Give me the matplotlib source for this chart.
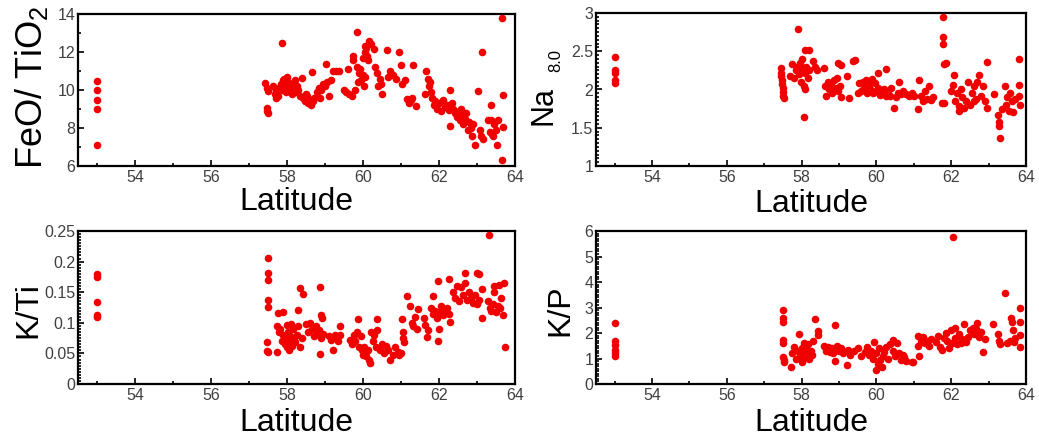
import matplotlib
matplotlib.use("Agg")
import matplotlib.pyplot as plt
from matplotlib.ticker import MultipleLocator, FuncFormatter

plt.rcParams['font.family'] = ['Liberation Sans', 'DejaVu Sans']
plt.rcParams['mathtext.fontset'] = 'custom'
plt.rcParams['mathtext.rm'] = 'Liberation Sans'
plt.rcParams['mathtext.it'] = 'Liberation Sans:italic'

# FeO/TiO2 vs latitude
fe_lat = [53.00, 53.00, 53.00, 53.00, 53.00, 57.42, 57.47, 57.50, 57.47, 57.50,
          57.48, 57.86, 57.63, 57.68, 57.72, 57.75, 57.80, 57.84, 57.88, 57.92,
          57.95, 57.98, 58.02, 58.05, 58.08, 58.12, 58.15, 58.18, 58.22, 58.26,
          58.30, 58.34, 57.90, 58.00, 58.10, 58.20, 57.70, 58.04, 58.14, 58.39,
          58.43, 58.48, 58.52, 58.56, 58.60, 58.64, 58.68, 58.67, 58.72, 58.50,
          58.80, 58.85, 58.90, 58.95, 59.00, 59.05, 59.10, 59.15, 59.03, 58.88,
          59.20, 59.28, 59.36, 59.50, 59.55, 59.62, 59.70, 59.78, 59.60, 59.74,
          59.74, 59.83, 59.85, 59.90, 59.93, 59.96, 60.00, 60.03, 60.05, 59.88,
          60.00, 60.04, 60.08, 60.12, 60.17, 60.20, 60.10, 60.06, 60.30, 60.32,
          60.36, 60.40, 60.44, 60.48, 60.50, 60.62, 60.65, 60.72, 60.80, 60.86,
          60.95, 61.00, 61.02, 61.15, 61.20, 61.25, 61.30, 61.40, 61.32, 61.10,
          61.63, 61.66, 61.70, 61.73, 61.76, 61.80, 61.82, 61.86, 61.90, 61.95,
          62.00, 62.05, 62.10, 62.15, 62.20, 62.25, 62.29, 62.29, 62.33, 62.38,
          62.43, 62.48, 62.52, 62.56, 62.60, 62.64, 62.68, 62.72, 62.76, 62.80,
          62.84, 62.88, 62.95, 63.08, 63.11, 63.15, 63.02, 63.14, 63.30, 63.34,
          63.38, 63.42, 63.46, 63.50, 63.55, 63.37, 63.52, 63.65, 63.67, 63.68,
          63.68, 62.58, 62.90, 63.40]
fe_ti = [10.45, 10.00, 9.47, 8.98, 7.10, 10.37, 10.10, 9.93, 9.05, 8.80,
         8.92, 12.47, 10.20, 9.80, 10.00, 9.70, 10.10, 10.30, 10.00, 10.60,
         10.20, 9.90, 10.40, 10.00, 10.20, 9.80, 10.30, 10.10, 9.90, 10.20,
         10.00, 9.70, 10.50, 10.70, 9.90, 10.50, 9.60, 10.30, 10.00, 10.63,
         9.60, 9.40, 9.70, 9.30, 9.50, 9.20, 9.40, 10.95, 9.60, 9.80,
         9.90, 10.10, 10.00, 10.30, 10.20, 10.40, 9.70, 10.50, 11.37, 9.60,
         11.00, 11.00, 11.00, 10.00, 9.90, 9.80, 9.70, 10.00, 11.10, 11.80,
         11.60, 13.05, 11.20, 10.90, 11.10, 10.50, 10.80, 10.20, 10.70, 10.40,
         11.70, 12.00, 12.20, 11.60, 12.60, 12.40, 11.80, 12.30, 12.17, 11.20,
         10.90, 10.20, 10.60, 10.30, 9.80, 12.10, 10.70, 11.00, 10.80, 10.60,
         12.00, 11.33, 10.30, 9.55, 9.30, 9.45, 9.58, 9.17, 11.30, 10.50,
         9.80, 11.00, 10.60, 10.20, 10.40, 9.90, 9.58, 9.20, 9.40, 9.00,
         9.30, 8.90, 9.50, 9.10, 9.20, 8.95, 10.00, 8.12, 9.30, 9.00,
         8.80, 8.60, 8.90, 8.40, 8.70, 8.20, 8.50, 8.80, 7.90, 8.30,
         8.00, 7.60, 7.10, 7.90, 7.60, 7.40, 9.96, 11.98, 8.40, 7.80,
         8.40, 7.60, 8.20, 7.90, 8.40, 9.20, 7.10, 6.33, 13.80, 9.72,
         8.05, 9.00, 8.20, 7.70]

# Na8.0 vs latitude
na_lat = [53.00, 53.00, 53.00, 53.00, 53.00, 57.44, 57.45, 57.46, 57.47, 57.48,
          57.49, 57.50, 57.51, 57.52, 57.89, 57.70, 57.75, 57.80, 57.84, 57.88,
          57.92, 57.95, 57.98, 58.02, 58.05, 58.08, 58.12, 58.16, 58.20, 58.10,
          58.20, 58.06, 58.10, 58.30, 58.35, 58.40, 58.60, 58.62, 58.66, 58.70,
          58.74, 58.78, 58.82, 58.86, 58.90, 58.94, 58.98, 59.02, 59.06, 58.97,
          59.05, 59.20, 59.27, 59.37, 59.42, 59.53, 59.58, 59.63, 59.68, 59.72,
          59.76, 59.80, 59.84, 59.88, 59.92, 59.96, 60.00, 60.05, 60.10, 60.15,
          60.20, 60.25, 60.03, 60.25, 60.30, 60.35, 60.40, 60.47, 60.52, 60.58,
          60.60, 60.66, 60.72, 60.80, 60.88, 60.95, 61.00, 61.10, 61.13, 61.20,
          61.25, 61.30, 61.35, 61.40, 61.45, 61.50, 61.77, 61.77, 61.77, 61.82,
          61.86, 61.75, 61.82, 62.05, 62.08, 62.10, 62.15, 62.20, 62.25, 62.30,
          62.35, 62.40, 62.45, 62.50, 62.55, 62.60, 62.65, 62.70, 62.75, 62.80,
          62.85, 62.90, 62.96, 62.95, 63.15, 63.25, 63.27, 63.28, 63.30, 63.43,
          63.47, 63.50, 63.54, 63.58, 63.62, 63.66, 63.70, 63.80, 63.82, 63.82,
          63.83, 62.00, 62.22, 62.62, 63.35, 58.00, 57.95, 59.50]
na80 = [2.43, 2.26, 2.22, 2.13, 2.08, 2.28, 2.22, 2.17, 2.12, 2.07,
        2.02, 1.97, 1.92, 1.89, 2.79, 2.18, 2.33, 2.15, 2.25, 2.30,
        2.20, 2.35, 2.10, 2.28, 2.05, 2.22, 2.30, 2.15, 2.25, 2.52,
        2.51, 1.64, 2.00, 2.37, 2.30, 2.25, 2.28, 2.05, 1.92, 2.10,
        2.00, 2.08, 1.95, 2.12, 2.02, 2.15, 1.98, 2.05, 1.90, 2.35,
        2.32, 2.18, 1.89, 2.37, 2.39, 2.08, 1.98, 2.10, 2.02, 2.12,
        1.96, 2.06, 2.00, 2.14, 1.95, 2.08, 1.98, 2.02, 1.93, 1.96,
        2.00, 1.92, 2.22, 2.27, 1.95, 1.92, 2.02, 1.76, 1.90, 1.96,
        2.10, 1.94, 1.98, 1.94, 1.92, 1.95, 1.92, 1.74, 2.13, 1.92,
        1.85, 1.98, 1.88, 2.05, 1.86, 1.90, 2.95, 2.69, 2.59, 2.33,
        2.34, 1.82, 1.82, 2.06, 2.19, 1.85, 1.95, 1.78, 2.00, 1.90,
        1.76, 1.85, 2.10, 1.80, 1.95, 2.05, 1.88, 2.10, 2.19, 1.92,
        2.05, 1.85, 2.36, 1.76, 1.94, 1.67, 1.58, 1.52, 1.36, 2.05,
        1.80, 1.90, 1.72, 1.95, 1.85, 1.70, 1.88, 2.40, 2.06, 1.92,
        1.80, 1.98, 1.72, 1.85, 1.75, 2.40, 2.30, 1.95]

# K/Ti vs latitude
kti_lat = [53.00, 53.00, 53.00, 53.00, 53.00, 57.51, 57.51, 57.51, 57.51, 57.51,
           57.47, 57.47, 57.51, 57.73, 57.77, 57.90, 57.73, 57.78, 57.82, 57.86,
           57.90, 57.94, 57.97, 58.00, 58.03, 58.06, 58.09, 58.12, 58.15, 58.18,
           58.22, 58.26, 58.30, 58.35, 58.40, 58.00, 58.05, 58.10, 58.14, 58.34,
           58.41, 58.30, 58.50, 58.55, 58.60, 58.65, 58.70, 58.75, 58.80, 58.85,
           58.90, 58.95, 58.87, 58.90, 58.92, 58.87, 59.10, 59.15, 59.20, 59.25,
           59.30, 59.35, 59.40, 59.40, 59.66, 59.70, 59.75, 59.80, 59.85, 59.88,
           59.90, 59.95, 59.97, 60.00, 60.03, 60.06, 60.09, 60.12, 60.15, 60.18,
           60.22, 60.26, 60.30, 60.34, 60.38, 60.36, 60.45, 60.50, 60.55, 60.60,
           60.66, 60.71, 60.78, 60.85, 60.93, 61.02, 61.05, 61.06, 61.08, 61.15,
           61.24, 61.28, 61.32, 61.36, 61.41, 61.45, 61.60, 61.64, 61.68, 61.70,
           61.85, 61.80, 61.85, 61.90, 61.95, 62.00, 62.05, 62.10, 62.15, 62.20,
           62.25, 62.29, 61.98, 61.97, 62.00, 62.27, 62.37, 62.42, 62.47, 62.52,
           62.57, 62.62, 62.68, 62.74, 62.68, 63.00, 63.06, 62.80, 62.85, 62.90,
           62.95, 63.00, 63.05, 63.12, 63.32, 63.12, 63.29, 63.33, 63.38, 63.42,
           63.46, 63.50, 63.55, 63.60, 63.64, 63.68, 63.72, 63.74, 63.44, 63.58,
           61.00, 60.96]
k_ti = [0.179, 0.175, 0.134, 0.113, 0.109, 0.206, 0.181, 0.170, 0.137, 0.126,
        0.069, 0.054, 0.053, 0.053, 0.116, 0.117, 0.095, 0.085, 0.090, 0.070,
        0.080, 0.065, 0.075, 0.060, 0.085, 0.070, 0.078, 0.062, 0.090, 0.072,
        0.068, 0.080, 0.095, 0.060, 0.075, 0.097, 0.055, 0.098, 0.066, 0.157,
        0.147, 0.121, 0.098, 0.085, 0.100, 0.090, 0.078, 0.095, 0.082, 0.088,
        0.075, 0.082, 0.159, 0.113, 0.108, 0.049, 0.078, 0.072, 0.055, 0.080,
        0.075, 0.070, 0.080, 0.094, 0.072, 0.065, 0.080, 0.070, 0.085, 0.107,
        0.060, 0.078, 0.055, 0.048, 0.061, 0.050, 0.045, 0.056, 0.040, 0.034,
        0.085, 0.070, 0.080, 0.060, 0.088, 0.106, 0.055, 0.065, 0.050, 0.062,
        0.055, 0.039, 0.048, 0.060, 0.052, 0.107, 0.085, 0.075, 0.068, 0.143,
        0.128, 0.100, 0.095, 0.110, 0.090, 0.122, 0.108, 0.096, 0.076, 0.088,
        0.144, 0.125, 0.115, 0.120, 0.108, 0.118, 0.128, 0.112, 0.120, 0.125,
        0.115, 0.102, 0.168, 0.070, 0.090, 0.171, 0.150, 0.140, 0.160, 0.135,
        0.158, 0.145, 0.165, 0.138, 0.181, 0.182, 0.179, 0.150, 0.140, 0.132,
        0.145, 0.130, 0.138, 0.155, 0.243, 0.108, 0.135, 0.125, 0.120, 0.130,
        0.160, 0.118, 0.128, 0.125, 0.140, 0.113, 0.165, 0.060, 0.150, 0.162,
        0.050, 0.048]

# K/P vs latitude
kp_lat = [53.00, 53.00, 53.00, 53.00, 53.00, 53.00, 57.49, 57.50, 57.50, 57.50,
          57.51, 57.51, 57.52, 57.52, 57.71, 57.75, 57.80, 57.85, 57.90, 57.93,
          57.95, 58.00, 58.02, 58.05, 58.08, 58.10, 58.12, 58.15, 58.18, 58.20,
          58.25, 58.30, 58.36, 58.43, 58.43, 58.00, 58.05, 58.28, 58.60, 58.65,
          58.70, 58.75, 58.80, 58.85, 58.90, 58.95, 59.00, 59.05, 59.10, 58.90,
          58.90, 59.20, 59.25, 59.30, 59.40, 59.50, 59.60, 59.70, 59.75, 59.80,
          59.85, 59.90, 59.94, 59.98, 60.00, 60.03, 60.06, 60.10, 60.14, 60.17,
          60.20, 60.25, 60.30, 60.35, 60.43, 60.45, 60.50, 60.55, 60.60, 60.65,
          60.70, 60.75, 60.80, 60.95, 60.98, 61.10, 61.12, 61.15, 61.18, 61.20,
          61.25, 61.30, 61.35, 61.40, 61.45, 61.60, 61.65, 61.70, 61.75, 61.80,
          61.85, 61.90, 62.06, 62.00, 62.10, 62.15, 62.20, 62.25, 62.30, 62.35,
          62.40, 62.45, 62.50, 62.57, 62.62, 62.66, 62.70, 62.75, 62.80, 62.86,
          62.90, 63.13, 63.25, 63.28, 63.30, 63.43, 63.56, 63.60, 63.64, 63.68,
          63.70, 63.83, 63.83, 63.83, 63.83, 62.02, 61.95, 63.50, 63.62, 62.10]
k_p = [2.39, 1.67, 1.51, 1.34, 1.21, 1.08, 2.90, 2.57, 2.44, 1.72,
       1.59, 1.06, 0.93, 0.87, 0.67, 1.20, 1.45, 1.00, 1.30, 1.95,
       1.10, 1.40, 0.90, 1.25, 1.50, 1.05, 1.35, 1.20, 1.55, 1.00,
       1.30, 1.70, 2.55, 2.07, 1.92, 0.85, 1.60, 1.15, 1.50, 1.30,
       1.45, 1.25, 1.40, 1.20, 1.35, 1.50, 1.28, 1.40, 1.20, 2.31,
       0.89, 0.76, 1.35, 1.15, 1.30, 1.40, 1.10, 1.25, 1.45, 1.15,
       1.30, 1.00, 1.65, 0.54, 1.20, 0.80, 1.40, 0.95, 0.65, 1.10,
       1.25, 1.45, 1.00, 1.55, 1.73, 1.30, 1.10, 1.60, 1.20, 0.95,
       1.15, 1.05, 0.90, 0.88, 0.85, 1.90, 1.50, 1.10, 1.65, 1.75,
       1.85, 1.60, 1.70, 1.50, 1.75, 1.65, 1.90, 1.45, 1.35, 1.80,
       2.00, 1.70, 5.75, 2.10, 1.80, 1.55, 1.95, 1.60, 1.75, 2.34,
       1.65, 1.85, 2.10, 2.20, 1.95, 2.15, 2.40, 1.85, 2.05, 1.26,
       1.75, 2.34, 1.95, 1.70, 1.55, 3.56, 1.70, 2.57, 2.10, 1.65,
       1.80, 2.99, 2.42, 1.91, 1.47, 1.60, 1.40, 1.60, 2.45, 2.20]

W, H = 1039, 436
fig = plt.figure(figsize=(W / 100, H / 100), dpi=100)


def px_axes(x0, x1, y0, y1):
    return fig.add_axes([x0 / W, 1 - y1 / H, (x1 - x0) / W, (y1 - y0) / H])


panels = [
    (px_axes(78, 515, 14, 166), fe_lat, fe_ti, (6, 14), 2, 1),
    (px_axes(596, 1026, 13, 166), na_lat, na80, (1, 3), 0.5, 0.05),
    (px_axes(78, 515, 231, 384), kti_lat, k_ti, (0, 0.25), 0.05, 0.005),
    (px_axes(596, 1026, 231, 384), kp_lat, k_p, (0, 6), 1, 0.1),
]

fmt = FuncFormatter(lambda v, p: f'{v:g}')
for ax, xs, ys, ylim, major, minor in panels:
    ax.scatter(xs, ys, s=30, color='#f00000', linewidths=0, zorder=3)
    ax.set_xlim(52.5, 64)
    ax.set_ylim(*ylim)
    ax.xaxis.set_major_locator(MultipleLocator(2))
    ax.xaxis.set_minor_locator(MultipleLocator(1))
    ax.yaxis.set_major_locator(MultipleLocator(major))
    ax.yaxis.set_minor_locator(MultipleLocator(minor))
    ax.yaxis.set_major_formatter(fmt)
    ax.tick_params(which='both', direction='in', top=False, right=False,
                   labelsize=11.5, labelcolor='#404040', width=1.2)
    ax.tick_params(which='major', length=4.5)
    ax.tick_params(which='minor', length=2.5)
    ax.tick_params(axis='y', pad=2)
    ax.tick_params(axis='x', pad=3)
    for sp in ax.spines.values():
        sp.set_linewidth(1.6)


def ftext(x, y, s, **kw):
    fig.text(x / W, 1 - y / H, s, **kw)


# x labels
for cx, by in [(296, 210), (811, 212), (296, 431), (811, 431)]:
    ftext(cx, by, 'Latitude', fontsize=23, ha='center', va='baseline')

# y labels
ftext(32, 87, r'FeO/ TiO$_2$', fontsize=26, rotation=90, ha='center', va='center')
ftext(544, 105, 'Na', fontsize=22, rotation=90, ha='center', va='center')
ftext(556, 60, '8.0', fontsize=12, rotation=90, ha='center', va='center')
ftext(28, 310, 'K/Ti', fontsize=23, rotation=90, ha='center', va='center')
ftext(560, 310, 'K/P', fontsize=23, rotation=90, ha='center', va='center')

fig.savefig('out.png', dpi=100)
